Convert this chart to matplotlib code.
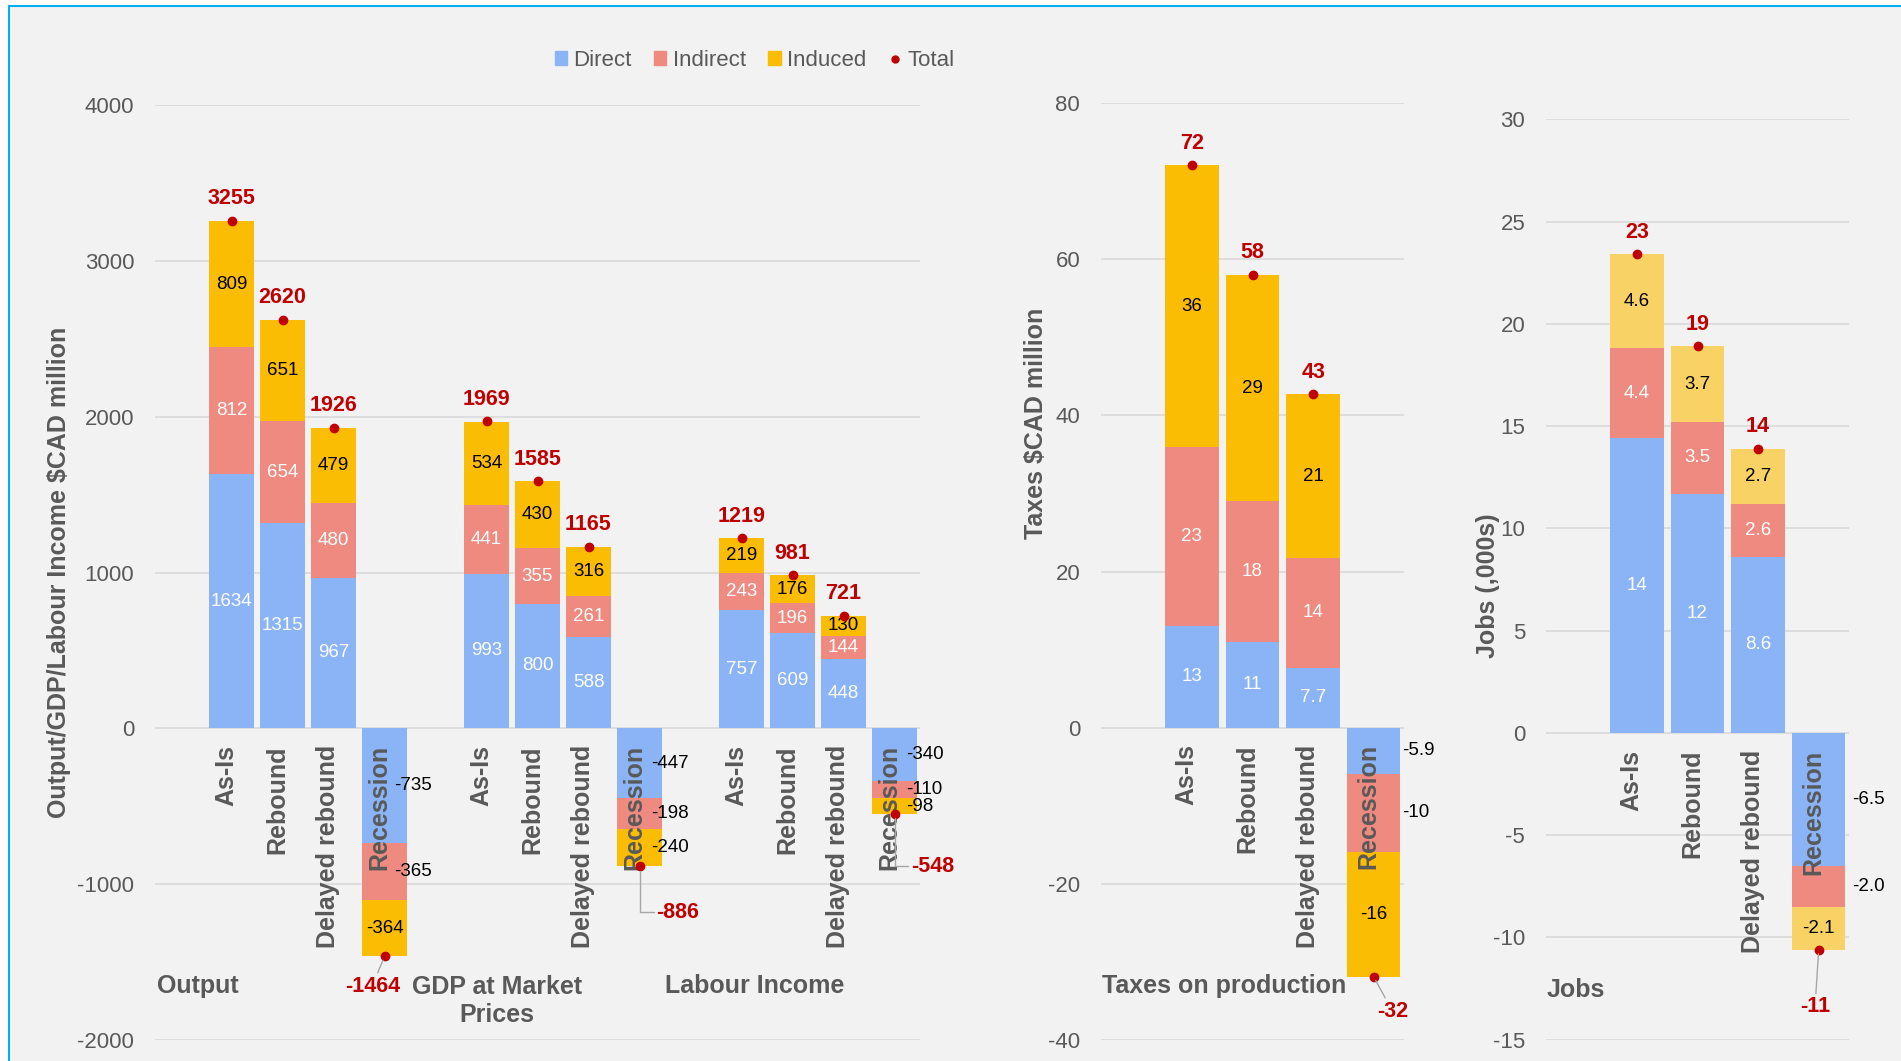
import numpy as np
import matplotlib
matplotlib.use('Agg')
import matplotlib.pyplot as plt
from matplotlib.patches import Patch, Rectangle
from matplotlib.lines import Line2D

plt.rcParams['font.family'] = ['Liberation Sans', 'DejaVu Sans']
plt.rcParams['axes.unicode_minus'] = False

scenarios = ['As-Is', 'Rebound', 'Delayed rebound', 'Recession']

# Output / GDP / Labour income, $CAD million
output_direct = [1634, 1315, 967, -735]
output_indirect = [812, 654, 480, -365]
output_induced = [809, 651, 479, -364]
output_total = [3255, 2620, 1926, -1464]

gdp_direct = [993, 800, 588, -447]
gdp_indirect = [441, 355, 261, -198]
gdp_induced = [534, 430, 316, -240]
gdp_total = [1969, 1585, 1165, -886]

labour_direct = [757, 609, 448, -340]
labour_indirect = [243, 196, 144, -110]
labour_induced = [219, 176, 130, -98]
labour_total = [1219, 981, 721, -548]

# Taxes on production, $CAD million
taxes_direct = [13, 11, 7.7, -5.9]
taxes_indirect = [23, 18, 14, -10]
taxes_induced = [36, 29, 21, -16]
taxes_total = [72, 58, 42.7, -31.9]

# Jobs, thousands
jobs_direct = [14.4, 11.7, 8.6, -6.5]
jobs_indirect = [4.4, 3.5, 2.6, -2.0]
jobs_induced = [4.6, 3.7, 2.7, -2.1]
jobs_total = [23.4, 18.9, 13.9, -10.6]

# colours
C_DIRECT = '#8AB4F5'
C_INDIRECT = '#EE8A80'
C_INDUCED = '#FBBC04'
C_INDUCED_JOBS = '#F8D264'
RED = '#C00000'
GREY = '#595959'
GRID = '#D9D9D9'
BW = 0.88


def fmt(v):
    return '%.0f' % v if abs(v) >= 10 else '%.1f' % v


def style_axis(ax, ylim, step, ylabel, label_xy):
    ax.set_facecolor('none')
    ax.set_ylim(*ylim)
    ax.set_yticks(np.arange(ylim[0], ylim[1] + step / 2, step))
    ax.set_xticks([])
    for s in ax.spines.values():
        s.set_visible(False)
    ax.yaxis.grid(True, color=GRID, lw=1.2, zorder=0)
    ax.set_axisbelow(True)
    ax.tick_params(axis='y', length=0, pad=15, labelsize=16, labelcolor=GREY)
    ax.set_ylabel(ylabel, fontsize=18, fontweight='bold', color=GREY)
    ax.yaxis.set_label_coords(*label_xy)


def draw_group(ax, x0, direct, indirect, induced, total, induced_color,
               outside, side_pad, neg_text, neg_style):
    xs = x0 + np.arange(len(direct))
    segs = [(direct, C_DIRECT, 'white'), (indirect, C_INDIRECT, 'white'),
            (induced, induced_color, 'black')]
    base = np.zeros(len(direct))
    for k, (vals, col, tcol) in enumerate(segs):
        vals = np.array(vals, float)
        ax.bar(xs, vals, width=BW, bottom=base, color=col, zorder=2)
        for x, b, v in zip(xs, base, vals):
            if v < 0 and outside[k]:
                # recession labels sit to the right of the bar
                ax.annotate(fmt(v), (x + BW / 2, b + v / 2), xytext=(side_pad, 0),
                            textcoords='offset points', ha='left', va='center',
                            fontsize=13.5, color='black', zorder=3)
            else:
                ax.text(x, b + v / 2, fmt(v), ha='center', va='center',
                        fontsize=13.5, color=tcol if v > 0 else 'black', zorder=3)
        base = base + vals

    for x, s in zip(xs, scenarios):
        ax.annotate(s, (x, 0), xytext=(-4, -12), textcoords='offset points',
                    rotation=90, ha='center', va='top', fontsize=18,
                    fontweight='bold', color=GREY, zorder=4)

    for x, t in zip(xs, total):
        ax.plot(x, t, 'o', color=RED, ms=6, zorder=5)
        if t > 0:
            ax.annotate(fmt(t), (x, t), xytext=(0, 16), textcoords='offset points',
                        ha='center', va='center', fontsize=15.5,
                        fontweight='bold', color=RED, zorder=5)
        else:
            ax.annotate(fmt(t), (x, t), xytext=neg_text, textcoords='data',
                        ha='center', va='center', fontsize=15.5,
                        fontweight='bold', color=RED, zorder=5,
                        arrowprops=dict(arrowstyle='-', color='#A6A6A6', lw=1,
                                        shrinkA=0, shrinkB=3,
                                        connectionstyle=neg_style))


fig = plt.figure(figsize=(19.01, 10.61), dpi=100, facecolor='white')
fig.patches.append(Rectangle((9 / 1901, -0.05), 1.1, 1.05 - 6 / 1061,
                             transform=fig.transFigure, facecolor='#F2F2F2',
                             edgecolor='#00B0F0', lw=1.5, zorder=-1))

# left panel: output, GDP, labour income
ax1 = fig.add_axes([155 / 1901, 21 / 1061, 765 / 1901, 935 / 1061])
style_axis(ax1, (-2000, 4000), 1000, 'Output/GDP/Labour Income $CAD million', (-0.11, 0.5))
ax1.set_xlim(-1.5, 13.5)
straight = 'arc3'
elbow = 'angle,angleA=0,angleB=90,rad=0'
draw_group(ax1, 0, output_direct, output_indirect, output_induced, output_total,
           C_INDUCED, (True, True, False), -9, (2.76, -1654), straight)
draw_group(ax1, 5, gdp_direct, gdp_indirect, gdp_induced, gdp_total,
           C_INDUCED, (True, True, True), -8, (8.75, -1180), elbow)
draw_group(ax1, 10, labour_direct, labour_indirect, labour_induced, labour_total,
           C_INDUCED, (True, True, True), -8, (13.75, -885), elbow)
title_kw = dict(fontsize=18, fontweight='bold', color=GREY, va='center')
ax1.text(-1.47, -1654, 'Output', ha='left', **title_kw)
ax1.text(5.2, -1750, 'GDP at Market\nPrices', ha='center', linespacing=1.2, **title_kw)
ax1.text(10.25, -1654, 'Labour Income', ha='center', **title_kw)

# taxes panel
ax2 = fig.add_axes([1101 / 1901, 21 / 1061, 303 / 1901, 937 / 1061])
style_axis(ax2, (-40, 80), 20, 'Taxes $CAD million', (-0.175, 0.658))
ax2.set_xlim(-1.5, 3.5)
draw_group(ax2, 0, taxes_direct, taxes_indirect, taxes_induced, taxes_total,
           C_INDUCED, (True, True, False), 1, (3.31, -36.3), straight)
ax2.text(-1.48, -33.1, 'Taxes on production', ha='left', **title_kw)

# jobs panel
ax3 = fig.add_axes([1546 / 1901, 21.3 / 1061, 303 / 1901, 920.4 / 1061])
style_axis(ax3, (-15, 30), 5, 'Jobs (,000s)', (-0.152, 0.493))
ax3.set_xlim(-1.5, 3.5)
draw_group(ax3, 0, jobs_direct, jobs_indirect, jobs_induced, jobs_total,
           C_INDUCED_JOBS, (True, True, False), 5, (2.94, -13.4), straight)
ax3.text(-1.49, -12.55, 'Jobs', ha='left', **title_kw)

handles = [Patch(color=C_DIRECT), Patch(color=C_INDIRECT), Patch(color=C_INDUCED),
           Line2D([], [], marker='o', ls='none', color=RED, ms=5)]
fig.legend(handles, ['Direct', 'Indirect', 'Induced', 'Total'], loc='center',
           bbox_to_anchor=(0.397, 0.943), ncol=4, frameon=False, fontsize=16,
           labelcolor=GREY, handlelength=0.55, handleheight=0.55,
           handletextpad=0.3, columnspacing=1.0)

fig.savefig('out.png', dpi=100, facecolor=fig.get_facecolor())
